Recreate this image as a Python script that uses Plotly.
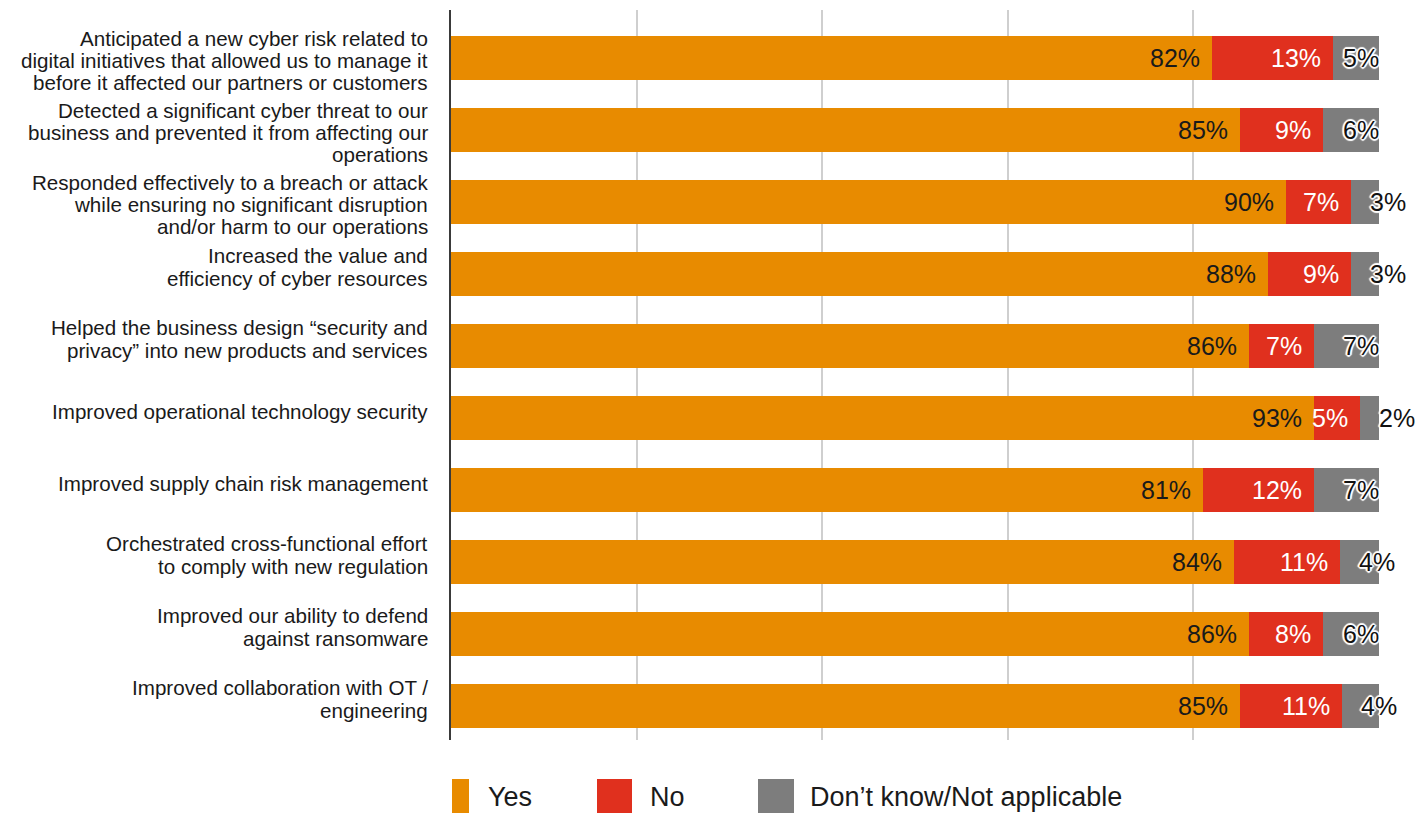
import plotly.graph_objects as go

categories = [
    "Anticipated a new cyber risk related to<br>digital initiatives that allowed us to manage it<br>before it affected our partners or customers",
    "Detected a significant cyber threat to our<br>business and prevented it from affecting our<br>operations",
    "Responded effectively to a breach or attack<br>while ensuring no significant disruption<br>and/or harm to our operations",
    "Increased the value and<br>efficiency of cyber resources",
    "Helped the business design “security and<br>privacy” into new products and services",
    "Improved operational technology security",
    "Improved supply chain risk management",
    "Orchestrated cross-functional effort<br>to comply with new regulation",
    "Improved our ability to defend<br>against ransomware",
    "Improved collaboration with OT /<br>engineering",
]
yes_vals = [82, 85, 90, 88, 86, 93, 81, 84.4, 86, 85]
no_vals = [13, 9, 7, 9, 7, 5, 12, 11.4, 8, 11]
dk_vals = [5, 6, 3, 3, 7, 2, 7, 4.2, 6, 4]
series_names = ["Yes", "No", "Don’t know/Not applicable"]
series_colors = ["#E88B00", "#E0301E", "#7D7D7D"]

# the page body has an 8px margin, so the figure is laid out 8px smaller
OFF = 8
W, H = 1424 - OFF, 815 - OFF
ML, MT = 451 - OFF, 10 - OFF
PLOT_R, PLOT_B = 1379 - OFF, 740 - OFF
MR, MB = W - PLOT_R, H - PLOT_B
PW, PH = PLOT_R - ML, PLOT_B - MT

VAL_FONT = "Liberation Sans, Arial, sans-serif"
LBL_FONT = "Liberation Sans, Arial, sans-serif"
VAL_SIZE = 25

fig = go.Figure()
for name, vals, col in zip(series_names, [yes_vals, no_vals, dk_vals], series_colors):
    fig.add_trace(go.Bar(
        y=categories, x=vals, name=name, orientation="h",
        marker=dict(color=col, line=dict(width=0)),
        showlegend=False,
        hovertemplate="%{y}<br>" + name + ": %{x:.0f}%<extra></extra>",
    ))

annotations = []
halo = ("0 0 2px #fff, 1px 1px 1px #fff, -1px -1px 1px #fff, 1px -1px 1px #fff, "
        "-1px 1px 1px #fff, 2px 0 1px #fff, -2px 0 1px #fff, 0 2px 1px #fff, 0 -2px 1px #fff")
for cat, y_, n_, d_ in zip(categories, yes_vals, no_vals, dk_vals):
    annotations.append(dict(x=y_, y=cat, xref="x", yref="y", text=f"{y_:.0f}%",
                            xanchor="right", yanchor="middle", xshift=-10, showarrow=False,
                            font=dict(family=VAL_FONT, size=VAL_SIZE, color="#1a1a1a")))
    annotations.append(dict(x=y_ + n_, y=cat, xref="x", yref="y", text=f"{n_:.0f}%",
                            xanchor="right", yanchor="middle", xshift=-10, showarrow=False,
                            font=dict(family=VAL_FONT, size=VAL_SIZE, color="#ffffff")))
    tot = y_ + n_ + d_
    if d_ >= 5:
        ga = dict(x=tot, xanchor="right", xshift=2)
    else:
        ga = dict(x=y_ + n_, xanchor="left", xshift=17)
    annotations.append(dict(y=cat, xref="x", yref="y", text=f"{d_:.0f}%",
                            yanchor="middle", showarrow=False,
                            font=dict(family=VAL_FONT, size=VAL_SIZE, color="#111111", shadow=halo),
                            **ga))

# category labels, one annotation per line for tight line spacing
for cat in categories:
    lines = cat.split("<br>")
    n = len(lines)
    line_h = 22 if n == 3 else 23
    shift = 2 if n == 3 else -7
    for j, ln in enumerate(lines):
        dy = (j - (n - 1) / 2) * line_h + shift
        annotations.append(dict(x=0, y=cat, xref="paper", yref="y", text=ln,
                                xanchor="right", yanchor="middle", xshift=-21, yshift=-dy,
                                showarrow=False, align="right",
                                font=dict(family=LBL_FONT, size=20.6, color="#1a1a1a")))

# custom legend (positions given in reference-page pixels)
def px_x(p):
    return (p - OFF - ML) / PW

def px_y(p):
    return (PLOT_B - (p - OFF)) / PH

legend_boxes = [(452, 469), (597, 632), (758, 794)]
legend_text_x = [486, 648, 808]
shapes = []
for (x0, x1), tx, name, col in zip(legend_boxes, legend_text_x, series_names, series_colors):
    shapes.append(dict(type="rect", xref="paper", yref="paper",
                       x0=px_x(x0), x1=px_x(x1), y0=px_y(813), y1=px_y(779),
                       fillcolor=col, line=dict(width=0), layer="above"))
    annotations.append(dict(x=px_x(tx), y=px_y(797), xref="paper", yref="paper", text=name,
                            xanchor="left", yanchor="middle", showarrow=False,
                            font=dict(family=LBL_FONT, size=27, color="#1a1a1a")))

fig.update_layout(
    width=W, height=H,
    margin=dict(l=ML, r=MR, t=MT, b=MB, pad=0),
    barmode="stack", bargap=0.389,
    plot_bgcolor="#ffffff", paper_bgcolor="#ffffff",
    showlegend=False,
    annotations=annotations, shapes=shapes,
    xaxis=dict(range=[0, 100], dtick=20, tick0=0, showgrid=True, gridcolor="#cfcfcf",
               gridwidth=1.5, showticklabels=False, zeroline=False, showline=False, ticks=""),
    yaxis=dict(type="category", categoryorder="array", categoryarray=categories,
               range=[9.472, -0.667], showticklabels=False, showgrid=False,
               showline=True, linecolor="#3a3a3a", linewidth=2, ticks="", zeroline=False),
)

fig.write_html("out.html")
